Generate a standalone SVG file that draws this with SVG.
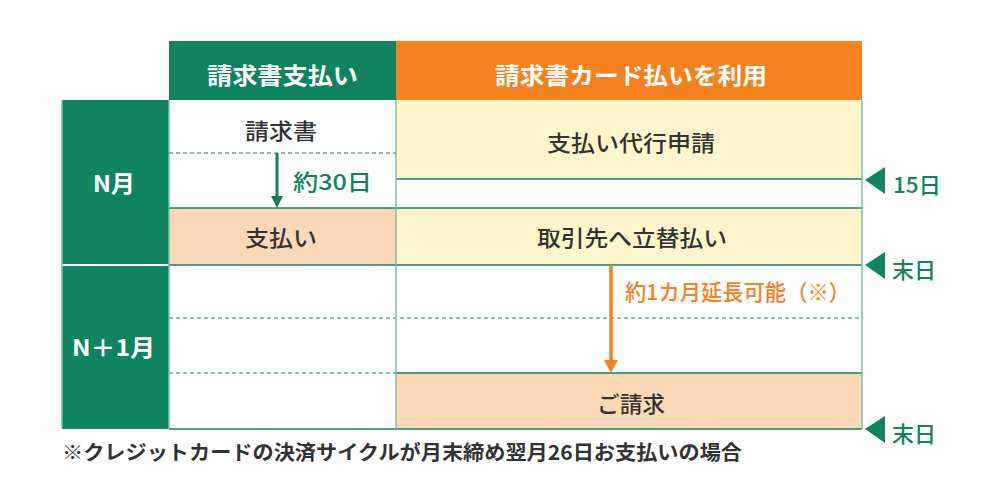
<svg xmlns="http://www.w3.org/2000/svg" width="987" height="479" viewBox="0 0 987 479">
<style>
text{font-family:"Noto Sans CJK JP","Noto Sans CJK SC",sans-serif;}
.hd{fill:#ffffff;font-size:23px;font-weight:700;}
.mo{fill:#ffffff;font-size:23px;font-weight:700;}
.cell{fill:#333333;font-size:22px;font-weight:500;}
.mk{fill:#0E8461;font-size:22px;font-weight:500;}
.hl{stroke:#0E8461;stroke-width:1.5;fill:none;}
.vl{stroke:#7DC0A8;stroke-width:1.5;fill:none;}
.dl{stroke:#0E8461;stroke-width:1.2;stroke-dasharray:4 3;fill:none;}
.tri{fill:#0E8461;}
</style>
<rect width="987" height="479" fill="#ffffff"/>

<g id="header-invoice">
<rect x="169" y="41" width="227" height="59" fill="#0E8461"/>
<text class="hd" x="207" y="84" textLength="151" lengthAdjust="spacingAndGlyphs">請求書支払い</text>
</g>
<g id="header-card">
<rect x="396" y="41" width="466" height="59" fill="#F5821E"/>
<text class="hd" x="495" y="84" textLength="272" lengthAdjust="spacingAndGlyphs">請求書カード払いを利用</text>
</g>

<g id="month-n">
<rect x="62" y="100" width="107" height="165" fill="#0E8461"/>
<text class="mo" x="93" y="192" textLength="42" lengthAdjust="spacingAndGlyphs">N月</text>
</g>
<g id="month-n1">
<rect x="62" y="265" width="107" height="164" fill="#0E8461"/>
<text class="mo" x="72" y="356" textLength="83" lengthAdjust="spacingAndGlyphs">N＋1月</text>
</g>
<line x1="62" y1="265" x2="169" y2="265" stroke="#ffffff" stroke-width="2"/>

<g id="cell-invoice">
<text class="cell" x="245" y="139" textLength="72" lengthAdjust="spacingAndGlyphs">請求書</text>
</g>
<g id="cell-payment">
<rect x="169" y="208" width="227" height="57" fill="#FBD9B6"/>
<text class="cell" x="245" y="246" textLength="72" lengthAdjust="spacingAndGlyphs">支払い</text>
</g>
<g id="cell-apply">
<rect x="396" y="100" width="466" height="79" fill="#FEF5CA"/>
<text class="cell" x="547" y="151" textLength="168" lengthAdjust="spacingAndGlyphs">支払い代行申請</text>
</g>
<g id="cell-advance">
<rect x="396" y="208" width="466" height="57" fill="#FEF5CA"/>
<text class="cell" x="537" y="246" textLength="190" lengthAdjust="spacingAndGlyphs">取引先へ立替払い</text>
</g>
<g id="cell-bill">
<rect x="396" y="373" width="466" height="56" fill="#FBD9B6"/>
<text class="cell" x="597" y="412" textLength="68" lengthAdjust="spacingAndGlyphs">ご請求</text>
</g>

<g id="grid">
<line class="dl" x1="169" y1="153" x2="396" y2="153"/>
<line class="dl" x1="169" y1="318" x2="862" y2="318"/>
<line class="dl" x1="169" y1="373" x2="396" y2="373"/>
<line class="hl" x1="396" y1="179" x2="862" y2="179"/>
<line class="hl" x1="169" y1="208" x2="862" y2="208"/>
<line class="hl" x1="169" y1="265" x2="862" y2="265"/>
<line class="hl" x1="396" y1="373" x2="862" y2="373"/>
<line class="hl" x1="169" y1="429" x2="862" y2="429"/>
<line class="vl" x1="169" y1="100" x2="169" y2="429"/>
<line class="vl" x1="396" y1="100" x2="396" y2="429"/>
<line class="vl" x1="862" y1="100" x2="862" y2="429"/>
<line class="vl" x1="62" y1="100" x2="62" y2="429"/>
</g>

<g id="connectors">
<line x1="277" y1="153" x2="277" y2="197" stroke="#0E8461" stroke-width="3"/>
<polygon points="271,196 283,196 277,208" fill="#0E8461"/>
<line x1="611" y1="265" x2="611" y2="361" stroke="#F5821E" stroke-width="3.5"/>
<polygon points="604,360 618,360 611,373" fill="#F5821E"/>
</g>

<g id="label-30days">
<text class="mk" x="293" y="190" textLength="79" lengthAdjust="spacingAndGlyphs">約30日</text>
</g>
<g id="label-extend">
<text x="625" y="300" fill="#F5821E" font-size="22" font-weight="500" textLength="225" lengthAdjust="spacingAndGlyphs">約1カ月延長可能（※）</text>
</g>

<g id="marker-15">
<polygon class="tri" points="865,180 885,167 885,194"/>
<text class="mk" x="893" y="193" textLength="48" lengthAdjust="spacingAndGlyphs">15日</text>
</g>
<g id="marker-end1">
<polygon class="tri" points="865,265 885,252 885,279"/>
<text class="mk" x="892" y="278" textLength="44" lengthAdjust="spacingAndGlyphs">末日</text>
</g>
<g id="marker-end2">
<polygon class="tri" points="865,429 885,416 885,443"/>
<text class="mk" x="892" y="442" textLength="44" lengthAdjust="spacingAndGlyphs">末日</text>
</g>

<g id="footnote">
<text x="62" y="460" fill="#333333" font-size="20" font-weight="600" textLength="680" lengthAdjust="spacingAndGlyphs">※クレジットカードの決済サイクルが月末締め翌月26日お支払いの場合</text>
</g>
</svg>
